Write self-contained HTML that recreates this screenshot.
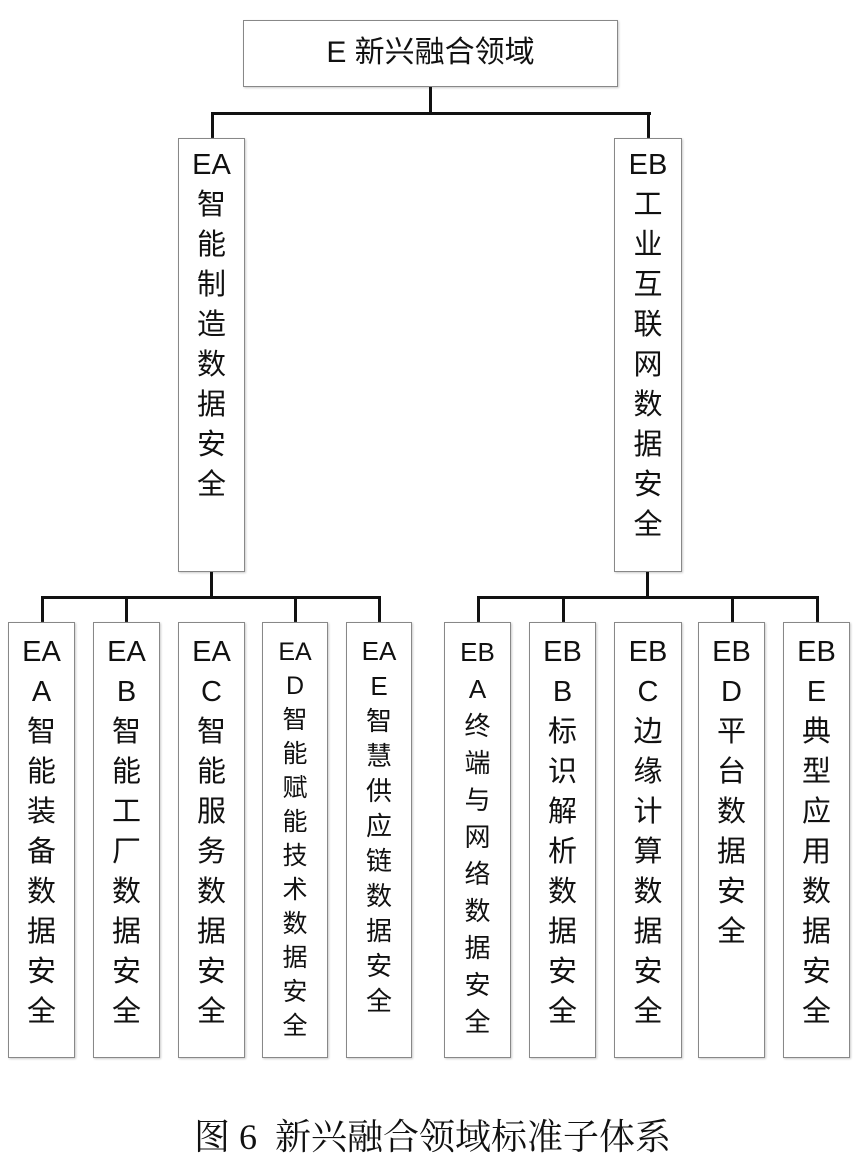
<!DOCTYPE html>
<html><head><meta charset="utf-8"><style>
body{margin:0;width:865px;height:1164px;background:#fff;position:relative;overflow:hidden;font-family:"Liberation Sans","Noto Sans CJK SC",sans-serif;color:#111}
.b{position:absolute;border:1.5px solid #888;box-sizing:border-box;background:#fff;text-align:center;box-shadow:1px 1px 2px #ccc}
.v{position:absolute;text-align:center;font-size:29px;line-height:40px}
.l{position:absolute;background:#111}
</style></head><body>
<div class="b" style="left:243px;top:20px;width:375px;height:67px;font-size:30px;line-height:64px">E 新兴融合领域</div>
<div class="l" style="left:429px;top:87px;width:3px;height:27px"></div>
<div class="l" style="left:211px;top:112px;width:440px;height:3px"></div>
<div class="l" style="left:211px;top:112px;width:3px;height:26px"></div>
<div class="l" style="left:647px;top:112px;width:3px;height:26px"></div>

<div class="b" style="left:178px;top:138px;width:67px;height:434px"></div>
<div class="v" style="left:178px;top:145px;width:67px">EA<br>智<br>能<br>制<br>造<br>数<br>据<br>安<br>全</div>
<div class="b" style="left:614px;top:138px;width:68px;height:434px"></div>
<div class="v" style="left:614px;top:145px;width:68px">EB<br>工<br>业<br>互<br>联<br>网<br>数<br>据<br>安<br>全</div>

<div class="l" style="left:210px;top:572px;width:3px;height:26px"></div>
<div class="l" style="left:646px;top:572px;width:3px;height:26px"></div>
<div class="l" style="left:41px;top:596px;width:340px;height:3px"></div>
<div class="l" style="left:477px;top:596px;width:342px;height:3px"></div>
<div class="l" style="left:41px;top:596px;width:3px;height:26px"></div>
<div class="l" style="left:125px;top:596px;width:3px;height:26px"></div>
<div class="l" style="left:294px;top:596px;width:3px;height:26px"></div>
<div class="l" style="left:378px;top:596px;width:3px;height:26px"></div>
<div class="l" style="left:477px;top:596px;width:3px;height:26px"></div>
<div class="l" style="left:562px;top:596px;width:3px;height:26px"></div>
<div class="l" style="left:731px;top:596px;width:3px;height:26px"></div>
<div class="l" style="left:816px;top:596px;width:3px;height:26px"></div>

<div class="b" style="left:8px;top:622px;width:67px;height:436px"></div>
<div class="v" style="left:8px;top:632px;width:67px">EA<br>A<br>智<br>能<br>装<br>备<br>数<br>据<br>安<br>全</div>
<div class="b" style="left:93px;top:622px;width:67px;height:436px"></div>
<div class="v" style="left:93px;top:632px;width:67px">EA<br>B<br>智<br>能<br>工<br>厂<br>数<br>据<br>安<br>全</div>
<div class="b" style="left:178px;top:622px;width:67px;height:436px"></div>
<div class="v" style="left:178px;top:632px;width:67px">EA<br>C<br>智<br>能<br>服<br>务<br>数<br>据<br>安<br>全</div>
<div class="b" style="left:262px;top:622px;width:66px;height:436px"></div>
<div class="v" style="left:262px;top:635px;width:66px;font-size:25px;line-height:34px">EA<br>D<br>智<br>能<br>赋<br>能<br>技<br>术<br>数<br>据<br>安<br>全</div>
<div class="b" style="left:346px;top:622px;width:66px;height:436px"></div>
<div class="v" style="left:346px;top:634px;width:66px;font-size:26px;line-height:35px">EA<br>E<br>智<br>慧<br>供<br>应<br>链<br>数<br>据<br>安<br>全</div>

<div class="b" style="left:444px;top:622px;width:67px;height:436px"></div>
<div class="v" style="left:444px;top:634px;width:67px;font-size:26px;line-height:37px">EB<br>A<br>终<br>端<br>与<br>网<br>络<br>数<br>据<br>安<br>全</div>
<div class="b" style="left:529px;top:622px;width:67px;height:436px"></div>
<div class="v" style="left:529px;top:632px;width:67px">EB<br>B<br>标<br>识<br>解<br>析<br>数<br>据<br>安<br>全</div>
<div class="b" style="left:614px;top:622px;width:68px;height:436px"></div>
<div class="v" style="left:614px;top:632px;width:68px">EB<br>C<br>边<br>缘<br>计<br>算<br>数<br>据<br>安<br>全</div>
<div class="b" style="left:698px;top:622px;width:67px;height:436px"></div>
<div class="v" style="left:698px;top:632px;width:67px">EB<br>D<br>平<br>台<br>数<br>据<br>安<br>全</div>
<div class="b" style="left:783px;top:622px;width:67px;height:436px"></div>
<div class="v" style="left:783px;top:632px;width:67px">EB<br>E<br>典<br>型<br>应<br>用<br>数<br>据<br>安<br>全</div>

<div style="position:absolute;left:0;width:865px;top:1114px;text-align:center;font-family:'Liberation Serif','Noto Serif CJK SC',serif;font-size:36px;line-height:46px">图 6&nbsp; 新兴融合领域标准子体系</div>
</body></html>
